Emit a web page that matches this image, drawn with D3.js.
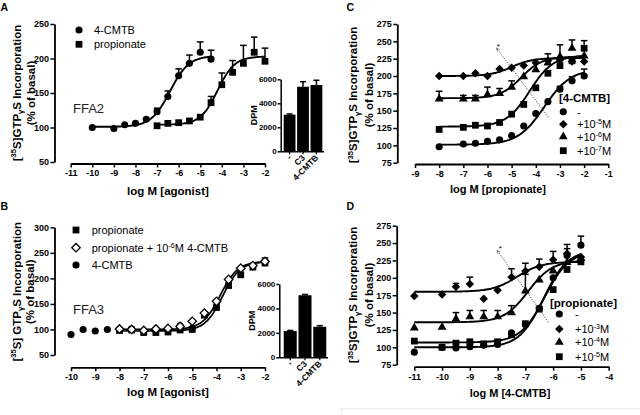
<!DOCTYPE html>
<html><head><meta charset="utf-8">
<script src="https://cdn.jsdelivr.net/npm/d3@7"></script>
<style>body{margin:0;background:#fff}svg{display:block}</style>
</head><body>
<svg id="c" width="640" height="415"></svg>
<script>
// ---------------- DATA ----------------
// Panel A (FFA2)
const aCmtbX = [-10,-9,-8.5,-8,-7.5,-7,-6.5,-6,-5.5,-5,-4.5];
const aCmtbY = [100,98.5,104,106,112,123,145,175,193,209,199];
const aCmtbE = [0,0,0,0,0,5,8,10,12,15,13];
const aPropX = [-7,-6.5,-6,-5.5,-5,-4.5,-4,-3.5,-3,-2.5,-2];
const aPropY = [102.5,106,107,109.5,115,136,162,180,193,209,196];
const aPropE = [0,0,0,0,0,9,17,17,26,22,19];
// fit params: [bottom, top, logEC50, hill, xStart, xEnd]
const aCmtbFit = [101,204,-6.4,1.0,-10,-4.5];
const aPropFit = [104,203,-4.2,1.1,-7,-2];
const aInsetCats = ["-","C3","4-CMTB"];
const aInsetVals = [3050,5380,5520];
const aInsetErr = [60,420,400];

// Panel B (FFA3)
const bPropX = [-8,-7.5,-7,-6.5,-6,-5.5,-5,-4.5,-4,-3.5,-3,-2.5,-2];
const bPropY = [98,99,94,94,95,99,100,128,143,186,207,222,230];
const bPropE = [0,0,0,0,0,0,0,0,0,0,0,0,10];
const bDiaY  = [101,100,98,101,102,106,116,132,155,198,220,225,233];
const bCmtbX = [-10,-9.5,-9,-8.5,-8,-7.5,-7,-6.5,-6,-5.5,-5];
const bCmtbY = [90,100,97,100,100,101,97,98,100,107,102];
const bPropFit = [97,233,-3.75,1.2,-8,-2];
const bDiaFit  = [100,233,-3.85,1.2,-8,-2];
const bInsetCats = ["-","C3","4-CMTB"];
const bInsetVals = [2150,5080,2500];
const bInsetErr = [50,60,90];

// Panel C
const cX = [-8,-7,-6.5,-6,-5.5,-5,-4.5,-4,-3.5,-3,-2.5,-2];
const cCircY = [98,102,103,106,108,114,128,146,163,181,193,200];
const cCircE = [0,0,0,0,0,0,0,0,0,4,6,10];
const cSqY   = [123,126,129,128,133,145,159,183,204,215,222,240];
const cSqE   = [0,0,0,0,0,0,0,0,0,0,0,11];
const cTriY  = [167,167,167,173,175,184,199,209,219,228,240,229];
const cTriE  = [11,5,5,11,7,9,0,0,13,17,12,0];
const cDiaY  = [200,200,204,200,210,212,215,219,222,223,221,221];
const cCircFit = [101,210,-3.65,0.8,-8,-2];
const cSqFit   = [127,230,-4.25,0.9,-8,-2];
const cTriFit  = [168,228,-4.6,1.0,-8,-2];
const cDiaFit  = [200,226,-5.0,1.0,-8,-2];
const cLegend = ["-","+10|-5|M","+10|-6|M","+10|-7|M"];

// Panel D
const dX = [-11,-10,-9.5,-9,-8.5,-8,-7.5,-7,-6.5,-6,-5.5,-5];
const dCircY = [93,100,99,101,103,104,121,133,156,200,232,247];
const dCircE = [0,0,0,0,0,0,0,0,0,0,10,13];
const dSqY   = [109,100,106,108,105,108,118,134,155,183,212,223];
const dSqE   = [0,0,0,0,0,0,0,0,0,0,0,0];
const dTriY  = [128,129,141,144,144,144,150,181,197,210,222,228];
const dTriE  = [0,0,9,9,9,9,10,24,0,0,0,0];
const dDiaY  = [174,176,187,191,170,182,201,210,216,226,235,230];
const dDiaE  = [0,0,5,10,0,0,12,11,11,12,13,0];
const dCircFit = [100,240,-6.35,1.0,-11,-5];
const dSqFit   = [107,238,-6.3,1.0,-11,-5];
const dTriFit  = [136,225,-6.9,1.0,-11,-5];
const dDiaFit  = [180,223,-7.3,1.0,-11,-5];
const dLegend = ["-","+10|-3|M","+10|-4|M","+10|-5|M"];

// ---------------- DRAWING ----------------
const FONT = "'Liberation Sans', Arial, Helvetica, sans-serif";
const svg = d3.select("#c").style("font-family", FONT);
svg.append("rect").attr("width",640).attr("height",415).attr("fill","#fff");

const defs = svg.append("defs");
defs.append("marker").attr("id","arr").attr("viewBox","0 0 10 10").attr("refX",8).attr("refY",5)
  .attr("markerWidth",5).attr("markerHeight",5).attr("orient","auto")
  .append("path").attr("d","M0,1 L9,5 L0,9").attr("fill","none").attr("stroke","#444").attr("stroke-width",1.4);

const SYM = {
  circle: d3.symbol().type(d3.symbolCircle).size(40)(),
  square: d3.symbol().type(d3.symbolSquare).size(46)(),
  diamond: d3.symbol().type(d3.symbolSquare).size(36)(),
  triangle: d3.symbol().type(d3.symbolTriangle).size(34)()
};
function marker(g, type, x, y, open) {
  const p = g.append("path").attr("d", SYM[type])
    .attr("transform", `translate(${x},${y})` + (type === "diamond" ? " rotate(45)" : ""));
  if (open) p.attr("fill","#fff").attr("stroke","#000").attr("stroke-width",1.3);
  else p.attr("fill","#000");
  return p;
}
function logistic(p, x) {
  return p[0] + (p[1]-p[0]) / (1 + Math.pow(10, (p[2]-x)*p[3]));
}
function curve(g, x, y, p, w) {
  const xs = d3.range(p[4], p[5] + 1e-9, 0.05);
  g.append("path").datum(xs)
    .attr("d", d3.line().x(d => x(d)).y(d => y(logistic(p, d))).curve(d3.curveBasis))
    .attr("fill","none").attr("stroke","#000").attr("stroke-width", w || 1.9);
}
function series(g, x, y, xs, ys, es, type, open) {
  xs.forEach((xv, i) => {
    const e = es ? es[i] : 0;
    if (e > 0) {
      const cx = x(xv), y0 = y(ys[i]), y1 = y(ys[i] + e);
      g.append("line").attr("x1",cx).attr("x2",cx).attr("y1",y0).attr("y2",y1)
        .attr("stroke","#000").attr("stroke-width",1.5);
      g.append("line").attr("x1",cx-3.3).attr("x2",cx+3.3).attr("y1",y1).attr("y2",y1)
        .attr("stroke","#000").attr("stroke-width",1.5);
    }
  });
  xs.forEach((xv, i) => marker(g, type, x(xv), y(ys[i]), open));
}
function styleAxis(sel, fs) {
  sel.select(".domain").attr("stroke","#000").attr("stroke-width",1.8);
  sel.selectAll(".tick line").attr("stroke","#000").attr("stroke-width",1.5);
  sel.selectAll(".tick text").attr("fill","#000").attr("font-weight","bold")
    .attr("font-size", fs).attr("font-family", FONT);
}
function axes(g, x, y, xAt, yAt, xTicks, yTicks, fs) {
  const ay = g.append("g").attr("transform", `translate(${yAt},0)`)
    .call(d3.axisLeft(y).tickValues(yTicks).tickSize(4).tickSizeOuter(0).tickPadding(1.5).tickFormat(d => String(d)));
  styleAxis(ay, fs);
  const ax = g.append("g").attr("transform", `translate(0,${xAt})`)
    .call(d3.axisBottom(x).tickValues(xTicks).tickSize(4).tickSizeOuter(0).tickPadding(2.5).tickFormat(d => String(d)));
  styleAxis(ax, fs);
}
function yTitle(g, cx1, cx2, cy, firstSpace) {
  const fs = 11.5;
  const t = g.append("text").attr("transform", `translate(${cx1 + 4},${cy}) rotate(-90)`)
    .attr("text-anchor","middle").attr("font-size",fs).attr("font-weight","bold");
  t.append("tspan").text("[");
  t.append("tspan").attr("font-size",7.5).attr("dy",-4.5).text("35");
  t.append("tspan").attr("dy",4.5).text("S]" + firstSpace + "GTP");
  t.append("tspan").attr("font-size",7.5).attr("dy",2.5).text("γ");
  t.append("tspan").attr("dy",-2.5).text("S" + (firstSpace ? " " : "  ") + "Incorporation");
  g.append("text").attr("transform", `translate(${cx2 + 4},${cy}) rotate(-90)`)
    .attr("text-anchor","middle").attr("font-size",fs).attr("font-weight","bold").text("(% of basal)");
}
function xTitle(g, cx, by, label, fs) {
  g.append("text").attr("x",cx).attr("y",by).attr("text-anchor","middle")
    .attr("font-size",fs).attr("font-weight","bold").text(label);
}
function supText(g, x, y, str, fs, bold) {
  const parts = str.split("|");
  const t = g.append("text").attr("x",x).attr("y",y).attr("font-size",fs);
  if (bold) t.attr("font-weight","bold");
  t.append("tspan").text(parts[0]);
  if (parts.length > 1) {
    t.append("tspan").attr("font-size",fs*0.65).attr("dy",-4).text(parts[1]);
    t.append("tspan").attr("dy",4).text(parts[2]);
  }
  return t;
}
function inset(g, cats, vals, errs, x0, x1, y0, y1, axX) {
  const x = d3.scaleBand(cats, [x0, x1]).paddingInner(0.12).paddingOuter(0.05);
  const y = d3.scaleLinear([0,6000],[y0,y1]);
  const ay = g.append("g").attr("transform",`translate(${axX},0)`)
    .call(d3.axisLeft(y).tickValues([0,2000,4000,6000]).tickSize(3).tickSizeOuter(0).tickPadding(1).tickFormat(d => String(d)));
  styleAxis(ay, 8);
  ay.select(".domain").attr("stroke-width",1.5);
  g.selectAll(null).data(cats).enter().append("rect")
    .attr("x", d => x(d)).attr("width", x.bandwidth())
    .attr("y", (d,i) => y(vals[i])).attr("height", (d,i) => y0 - y(vals[i])).attr("fill","#000");
  cats.forEach((c,i) => {
    const cx = x(c) + x.bandwidth()/2, ye = y(vals[i] + errs[i]);
    g.append("line").attr("x1",cx).attr("x2",cx).attr("y1",y(vals[i])).attr("y2",ye).attr("stroke","#000").attr("stroke-width",1.5);
    g.append("line").attr("x1",cx-3).attr("x2",cx+3).attr("y1",ye).attr("y2",ye).attr("stroke","#000").attr("stroke-width",1.5);
    g.append("line").attr("x1",cx).attr("x2",cx).attr("y1",y0).attr("y2",y0+3).attr("stroke","#000").attr("stroke-width",1.3);
    g.append("text").attr("transform",`translate(${cx+2.5},${y0+7}) rotate(-45)`)
      .attr("text-anchor","end").attr("font-size",8.5).attr("font-weight","bold").text(c);
  });
  g.append("line").attr("x1",axX).attr("x2",x1+1).attr("y1",y0+0.5).attr("y2",y0+0.5).attr("stroke","#000").attr("stroke-width",1.6);
  g.append("text").attr("transform",`translate(${axX-24},${(y0+y1)/2}) rotate(-90)`)
    .attr("text-anchor","middle").attr("font-size",9).attr("font-weight","bold").text("DPM");
}
function letter(x, y, s) {
  svg.append("text").attr("x",x).attr("y",y).attr("font-size",10.5).attr("font-weight","bold").text(s);
}

// ---- Panel A ----
{
  const g = svg.append("g");
  const x = d3.scaleLinear([-11,-2],[70.7,265]);
  const y = d3.scaleLinear([50,250],[162,24]);
  axes(g, x, y, 163.5, 54.5, d3.range(-11,-1), [50,100,150,200,250], 9);
  curve(g, x, y, aCmtbFit); curve(g, x, y, aPropFit);
  series(g, x, y, aCmtbX, aCmtbY, aCmtbE, "circle");
  series(g, x, y, aPropX, aPropY, aPropE, "square");
  yTitle(g, 16.7, 31, 93, "");
  xTitle(g, 168, 195, "log M [agonist]", 11.5);
  marker(g,"circle",79,30); g.append("text").attr("x",94).attr("y",34).attr("font-size",11).text("4-CMTB");
  marker(g,"square",79,44.3); g.append("text").attr("x",94).attr("y",48.3).attr("font-size",11).text("propionate");
  g.append("text").attr("x",73).attr("y",113).attr("font-size",13).attr("fill","#222").text("FFA2");
  inset(g, aInsetCats, aInsetVals, aInsetErr, 283, 323, 151.3, 79.3, 280.7);
  letter(0.5, 10.5, "A");
}
// ---- Panel B ----
{
  const g = svg.append("g");
  const x = d3.scaleLinear([-10,-2],[71,265]);
  const y = d3.scaleLinear([50,300],[355,227.3]);
  axes(g, x, y, 367.3, 54.5, d3.range(-10,-1), [50,100,150,200,250,300], 9);
  curve(g, x, y, bPropFit, 1.7); curve(g, x, y, bDiaFit, 1.7);
  series(g, x, y, bCmtbX, bCmtbY, null, "circle");
  series(g, x, y, bPropX, bPropY, bPropE, "square");
  series(g, x, y, bPropX, bDiaY, null, "diamond", true);
  yTitle(g, 16.7, 30, 291.7, " ");
  xTitle(g, 168, 395.7, "log M [agonist]", 11.5);
  marker(g,"square",76,230); g.append("text").attr("x",91.7).attr("y",234).attr("font-size",11).text("propionate");
  marker(g,"diamond",76,247.7,true); supText(g, 91.7, 251.7, "propionate + 10|-6|M 4-CMTB", 11);
  marker(g,"circle",76,265); g.append("text").attr("x",91.7).attr("y",269).attr("font-size",11).text("4-CMTB");
  g.append("text").attr("x",73).attr("y",314).attr("font-size",13).attr("fill","#222").text("FFA3");
  inset(g, bInsetCats, bInsetVals, bInsetErr, 283, 327, 357.3, 284, 279.3);
  letter(0.5, 210, "B");
}
// ---- Panel C ----
{
  const g = svg.append("g");
  const x = d3.scaleLinear([-9,-1],[415,608.3]);
  const y = d3.scaleLinear([75,275],[162.7,24]);
  axes(g, x, y, 164, 397.3, d3.range(-9,0), d3.range(75,276,25), 9);
  [cCircFit,cSqFit,cTriFit,cDiaFit].forEach(p => curve(g, x, y, p));
  series(g, x, y, cX, cCircY, cCircE, "circle");
  series(g, x, y, cX, cSqY, cSqE, "square");
  series(g, x, y, cX, cTriY, cTriE, "triangle");
  series(g, x, y, cX, cDiaY, null, "diamond");
  g.append("line").attr("x1",x(-3.48)).attr("y1",y(140.5)).attr("x2",x(-5.62)).attr("y2",y(240))
    .attr("stroke","#444").attr("stroke-width",0.8).attr("stroke-dasharray","1.5,1.2").attr("marker-end","url(#arr)");
  g.append("text").attr("x",x(-5.55)).attr("y",y(245)+4).attr("font-size",8).attr("text-anchor","middle").text("*");
  yTitle(g, 353.3, 369.3, 95, "");
  xTitle(g, 498, 193.3, "log M [propionate]", 11);
  g.append("text").attr("x",559).attr("y",102).attr("font-size",11.5).attr("font-weight","bold").text("[4-CMTB]");
  const types = ["circle","diamond","triangle","square"], ly = [111.7,124.3,136.7,150.7];
  types.forEach((t,i) => { marker(g,t,563.3,ly[i]); supText(g, 577, ly[i]+4, cLegend[i], 11); });
  letter(346.5, 10.5, "C");
}
// ---- Panel D ----
{
  const g = svg.append("g");
  const x = d3.scaleLinear([-11,-4],[414.3,608.7]);
  const y = d3.scaleLinear([75,275],[364.7,225.7]);
  axes(g, x, y, 366.7, 396.7, d3.range(-11,-3), d3.range(75,276,25), 9);
  [dCircFit,dSqFit,dTriFit,dDiaFit].forEach(p => curve(g, x, y, p));
  series(g, x, y, dX, dCircY, dCircE, "circle");
  series(g, x, y, dX, dSqY, dSqE, "square");
  series(g, x, y, dX, dTriY, dTriE, "triangle");
  series(g, x, y, dX, dDiaY, dDiaE, "diamond");
  g.append("line").attr("x1",x(-6.17)).attr("y1",y(136)).attr("x2",x(-8.01)).attr("y2",y(239))
    .attr("stroke","#444").attr("stroke-width",0.8).attr("stroke-dasharray","1.5,1.2").attr("marker-end","url(#arr)");
  g.append("text").attr("x",x(-7.9)).attr("y",y(244)+4).attr("font-size",8).attr("text-anchor","middle").text("*");
  yTitle(g, 353.3, 369.3, 295, "");
  xTitle(g, 510, 396.7, "log M [4-CMTB]", 11);
  g.append("text").attr("x",550).attr("y",307).attr("font-size",11.5).attr("font-weight","bold").text("[propionate]");
  const types = ["circle","diamond","triangle","square"], ly = [314,329,342.3,356.7];
  types.forEach((t,i) => { marker(g,t,559.3,ly[i]); supText(g, 575, ly[i]+4, dLegend[i], 11); });
  letter(346.5, 210, "D");
}
// faint frame corner bottom right
svg.append("path").attr("d","M341.5,415 V408.5 H640").attr("fill","none").attr("stroke","#ececec").attr("stroke-width",1);
</script>
</body></html>
